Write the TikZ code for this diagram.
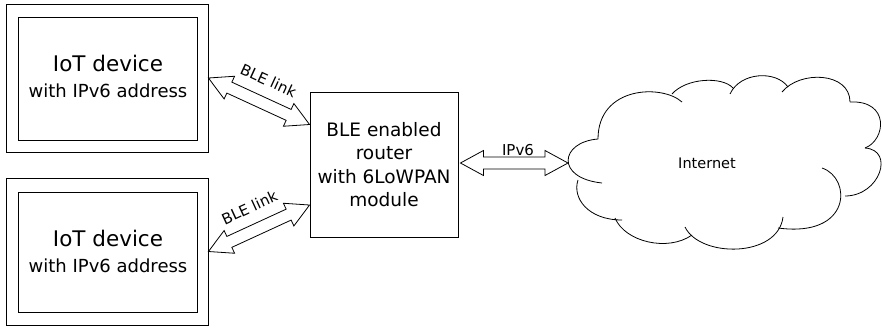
\documentclass[tikz,border=0pt]{standalone}
\usepackage{fontspec}
\setmainfont{DejaVu Sans}
\usetikzlibrary{calc}
\tikzset{
  box/.style={draw, line width=0.9pt, inner sep=0pt},
  arrowline/.style={draw, line width=0.8pt, line join=miter},
  cloudline/.style={line width=0.8pt},
  bigtxt/.style={font=\fontsize{21.5}{26}\selectfont, inner sep=0pt},
  midtxt/.style={font=\fontsize{18}{22}\selectfont, inner sep=0pt},
  smalltxt/.style={font=\fontsize{15}{18}\selectfont, inner sep=0pt},
}
\newcommand{\hollowarrow}[2]{%
  \draw[arrowline] let \p1=($(#2)-(#1)$), \n1={veclen(\x1,\y1)}, \n2={atan2(\y1,\x1)} in
    ([shift={(#1)},rotate=\n2]0,0) -- ([shift={(#1)},rotate=\n2]23,12.5)
    -- ([shift={(#1)},rotate=\n2]23,6) -- ([shift={(#1)},rotate=\n2]\n1-23,6)
    -- ([shift={(#1)},rotate=\n2]\n1-23,12.5) -- ([shift={(#1)},rotate=\n2]\n1,0)
    -- ([shift={(#1)},rotate=\n2]\n1-23,-12.5) -- ([shift={(#1)},rotate=\n2]\n1-23,-6)
    -- ([shift={(#1)},rotate=\n2]23,-6) -- ([shift={(#1)},rotate=\n2]23,-12.5) -- cycle;}
\begin{document}
\begin{tikzpicture}[x=1pt,y=-1pt]
\useasboundingbox (0,0) rectangle (882,327);
% devices
\node[box, minimum width=202pt, minimum height=148pt] (d1o) at (107,78) {};
\node[box, minimum width=179pt, minimum height=123pt] (d1i) at (107.5,78.5) {};
\node[bigtxt, anchor=base] (d1a) at (108,71) {IoT device};
\node[midtxt, anchor=base] (d1b) at (108,97) {with IPv6 address};
\node[box, minimum width=202pt, minimum height=147pt] (d2o) at (107,251.5) {};
\node[box, minimum width=179pt, minimum height=120pt] (d2i) at (107.5,252) {};
\node[bigtxt, anchor=base] (d2a) at (108,246) {IoT device};
\node[midtxt, anchor=base] (d2b) at (108,272) {with IPv6 address};
% router
\node[box, minimum width=148pt, minimum height=145pt, align=center,
      font=\fontsize{18.5}{23.3}\selectfont] (router) at (384,164.5)
      {BLE enabled\\router\\with 6LoWPAN\\module};
% arrow end points
\coordinate (r1) at ($(router.west)+(0,-40)$);
\coordinate (r2) at ($(router.west)+(0,40.5)$);
\coordinate (re) at ($(router.east)+(2,-1.5)$);
\coordinate (cw) at (568,163);
\hollowarrow{d1o.east}{r1}
\hollowarrow{d2o.east}{r2}
\hollowarrow{re}{cw}
\path (d1o.east) -- (r1) node[midway, sloped, above=17pt, smalltxt] (ble1) {BLE link};
\path (d2o.east) -- (r2) node[midway, sloped, above=17pt, smalltxt] (ble2) {BLE link};
\node[smalltxt, anchor=base] (ipl) at (518,155) {IPv6};
% cloud
\draw[cloudline] (598,139) .. controls (560,142) and (555,178) .. (602,183);
\draw[cloudline] (578,180) .. controls (572,198) and (588,220) .. (622,220);
\draw[cloudline] (615,218) .. controls (625,242) and (668,252) .. (692,235);
\draw[cloudline] (685,227) .. controls (700,258) and (778,258) .. (783,217);
\draw[cloudline] (822,168) .. controls (852,178) and (852,238) .. (778,228);
\draw[cloudline] (845,196) .. controls (880,196) and (895,150) .. (865,148);
\draw[cloudline] (865,148) .. controls (886,140) and (890,100) .. (850,102);
\draw[cloudline] (850,102) .. controls (850,72) and (800,70) .. (782,92);
\draw[cloudline] (788,87) .. controls (776,70) and (740,72) .. (730,94);
\draw[cloudline] (733,88) .. controls (722,76) and (686,78) .. (672,94);
\draw[cloudline] (682,102) .. controls (662,84) and (598,86) .. (598,139);
\node[font=\fontsize{14.5}{17}\selectfont] (inet) at (707,163) {Internet};
\end{tikzpicture}
\end{document}
